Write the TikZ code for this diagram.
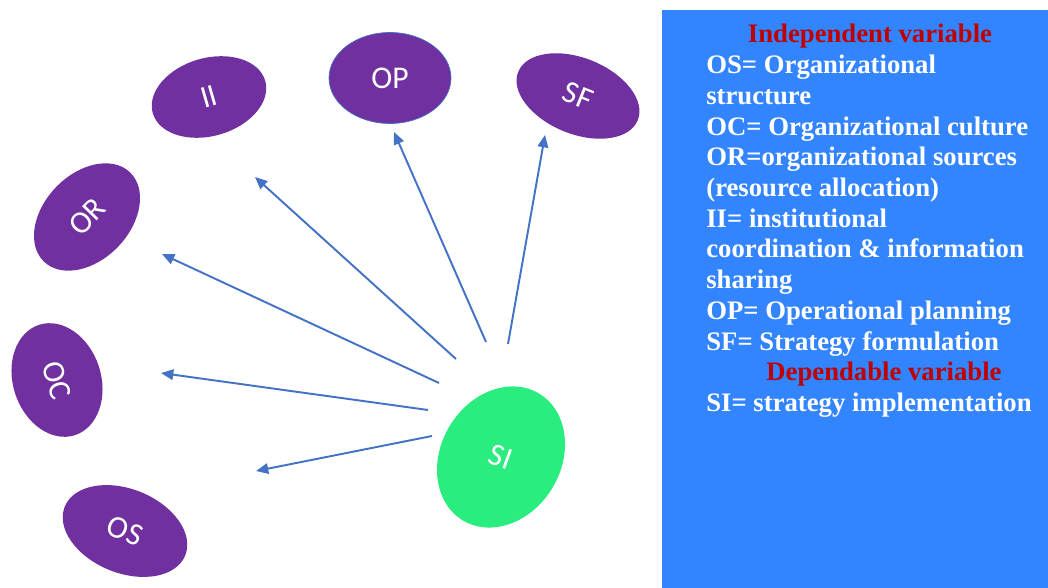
\documentclass[tikz,border=0pt]{standalone}
\usepackage{fontspec}
\setmainfont{Liberation Serif}
\newfontfamily\blobfont{Carlito}
\usetikzlibrary{shapes.geometric,arrows.meta}
\definecolor{varpurple}{RGB}{112,48,160}
\definecolor{vargreen}{RGB}{42,237,128}
\definecolor{arrowblue}{RGB}{68,114,196}
\definecolor{panelblue}{RGB}{51,133,255}
\definecolor{headred}{RGB}{192,0,0}
\begin{document}
\begin{tikzpicture}[x=0.02cm,y=-0.02cm,
  blob/.style={ellipse,fill=varpurple,inner sep=0pt,text=white,
    font=\blobfont\fontsize{18}{18}\selectfont},
  arrowlink/.style={draw=arrowblue,line width=1.1pt,-{Triangle[length=7pt,width=6pt]}},
  keyline/.style={anchor=base west,inner sep=0pt,text=white,
    font=\bfseries\fontsize{15.2}{17}\selectfont},
  keyhead/.style={anchor=base,inner sep=0pt,text=headred,
    font=\bfseries\fontsize{15.2}{17}\selectfont}]
  \useasboundingbox (0,0) rectangle (1048,588);
  % key panel
  \fill[panelblue] (662,10) rectangle (1048,588);
  \draw (870,43) node[keyhead] (hindep) {Independent variable};
  \foreach \txt [count=\i] in {OS= Organizational,structure,OC= Organizational culture,
      OR=organizational sources,(resource allocation),II= institutional,
      coordination \& information,sharing,OP= Operational planning,
      SF= Strategy formulation}
    \draw (706,43+30.7*\i) node[keyline] (ln\i) {\txt};
  \draw (884,380.7) node[keyhead] (hdep) {Dependable variable};
  \draw (706,411.4) node[keyline] (lnsi) {SI= strategy implementation};
  %
  % variables
  \draw (209,97) node[blob,minimum width=2.34cm,minimum height=1.56cm,rotate=16] (ii) {II};
  \draw (390,78) node[blob,draw=arrowblue,thin,minimum width=2.44cm,minimum height=1.82cm] (op) {OP};
  \draw (578,96) node[blob,minimum width=2.58cm,minimum height=1.52cm,rotate=-22] (sf) {SF};
  \draw (87,217) node[blob,minimum width=2.48cm,minimum height=1.72cm,rotate=46] (or) {OR};
  \draw (57,380) node[blob,minimum width=2.32cm,minimum height=1.76cm,rotate=-72] (oc) {OC};
  \draw (125,531) node[blob,minimum width=2.60cm,minimum height=1.68cm,rotate=-22] (os) {OS};
  \draw (501,457) node[blob,fill=vargreen,minimum width=2.40cm,minimum height=2.96cm,rotate=-31] (si) {\rotatebox{11}{SI}};
  %
  % arrow ends
  \coordinate (sii) at (456,359);  \coordinate (eii) at (255,177);
  \coordinate (sor) at (439,383);  \coordinate (eor) at (162,254);
  \coordinate (soc) at (428,410);  \coordinate (eoc) at (161,373);
  \coordinate (sos) at (432,436);  \coordinate (eos) at (256,471);
  \coordinate (sop) at (486,342);  \coordinate (eop) at (394,132);
  \coordinate (ssf) at (508,344);  \coordinate (esf) at (545,135);
  \foreach \v in {ii,or,oc,os,op,sf}
    \draw[arrowlink] (s\v) -- (e\v);
\end{tikzpicture}
\end{document}
